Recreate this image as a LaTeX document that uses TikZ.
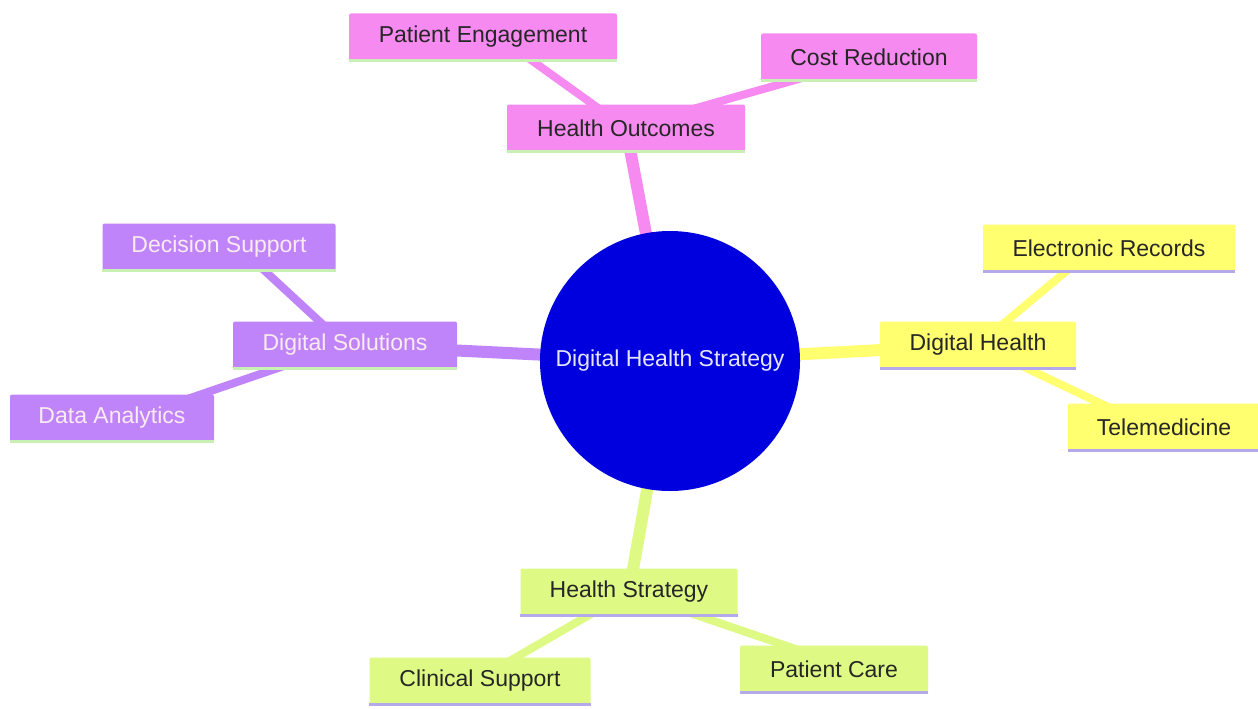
\documentclass[tikz,border=0pt]{standalone}
\usepackage{fontspec}
\setmainfont{Liberation Sans}
\usetikzlibrary{backgrounds}
\definecolor{cpink}{RGB}{246,138,240}
\definecolor{cpurple}{RGB}{192,132,250}
\definecolor{cyellow}{RGB}{255,255,112}
\definecolor{cgreen}{RGB}{222,250,132}
\definecolor{cblue}{RGB}{0,0,222}
\definecolor{ulgreen}{RGB}{200,240,180}
\definecolor{ullav}{RGB}{180,170,235}
\tikzset{
  box/.style={rectangle, rounded corners=2pt, minimum height=47pt, inner xsep=0pt, font=\fontsize{23}{27}\selectfont, text=black!85},
  pinkbox/.style={box, fill=cpink},
  purplebox/.style={box, fill=cpurple, text=white!92!purple},
  yellowbox/.style={box, fill=cyellow},
  greenbox/.style={box, fill=cgreen},
  mainlink/.style={line width=12pt},
  sublink/.style={line width=8pt},
  ul/.style={line width=3pt}
}
\begin{document}
\begin{tikzpicture}[x=1pt,y=-1pt]
\useasboundingbox (0,0) rectangle (1258,709);
% center
\node[circle, fill=cblue, minimum size=260pt, inner sep=0pt, text=white!90!blue, font=\fontsize{23}{27}\selectfont] (c) at (670,361) {Digital Health Strategy};
% pink
\node[pinkbox, minimum width=238pt] (ho) at (626,128) {Health Outcomes};
\node[pinkbox, minimum width=268pt] (pe) at (483,37) {Patient Engagement};
\node[pinkbox, minimum width=216pt] (cr) at (869,57) {Cost Reduction};
% purple
\node[purplebox, minimum width=224pt] (ds) at (345,345) {Digital Solutions};
\node[purplebox, minimum width=233pt] (dsu) at (219,247) {Decision Support};
\node[purplebox, minimum width=204pt] (da) at (112,418) {Data Analytics};
% yellow
\node[yellowbox, minimum width=196pt] (dh) at (978,345) {Digital Health};
\node[yellowbox, minimum width=252pt] (er) at (1109,248) {Electronic Records};
\node[yellowbox, minimum width=192pt] (tm) at (1164,427) {Telemedicine};
% green
\node[greenbox, minimum width=217pt] (hs) at (629,592) {Health Strategy};
\node[greenbox, minimum width=221pt] (cs) at (480,681) {Clinical Support};
\node[greenbox, minimum width=188pt] (pc) at (834,669) {Patient Care};
% underlines
\draw[ul, ulgreen] (ho.south west) -- (ho.south east);
\draw[ul, ulgreen] (pe.south west) -- (pe.south east);
\draw[ul, ulgreen] (cr.south west) -- (cr.south east);
\draw[ul, ulgreen] (ds.south west) -- (ds.south east);
\draw[ul, ulgreen] (dsu.south west) -- (dsu.south east);
\draw[ul, ulgreen] (da.south west) -- (da.south east);
\draw[ul, ullav] (dh.south west) -- (dh.south east);
\draw[ul, ullav] (er.south west) -- (er.south east);
\draw[ul, ullav] (tm.south west) -- (tm.south east);
\draw[ul, ullav] (hs.south west) -- (hs.south east);
\draw[ul, ullav] (cs.south west) -- (cs.south east);
\draw[ul, ullav] (pc.south west) -- (pc.south east);
\begin{pgfonlayer}{background}
\fill[white] (0,0) rectangle (1258,709);
\draw[mainlink, cpink] (c.center) -- (ho.center);
\draw[sublink, cpink] (ho.center) -- ([xshift=16pt]pe.center);
\draw[sublink, cpink] (ho.center) -- ([xshift=7pt]cr.center);
\draw[mainlink, cpurple] (c.center) -- (ds.center);
\draw[sublink, cpurple] (ds.center) -- ([xshift=20pt]dsu.center);
\draw[sublink, cpurple] (ds.center) -- ([xshift=20pt]da.center);
\draw[mainlink, cyellow] (c.center) -- (dh.center);
\draw[sublink, cyellow] (dh.center) -- ([xshift=-15pt]er.center);
\draw[sublink, cyellow] (dh.center) -- ([xshift=-14pt]tm.center);
\draw[mainlink, cgreen] (c.center) -- (hs.center);
\draw[sublink, cgreen] (hs.center) -- ([xshift=-5pt]cs.center);
\draw[sublink, cgreen] (hs.center) -- ([xshift=20pt]pc.center);
\end{pgfonlayer}
\end{tikzpicture}
\end{document}
